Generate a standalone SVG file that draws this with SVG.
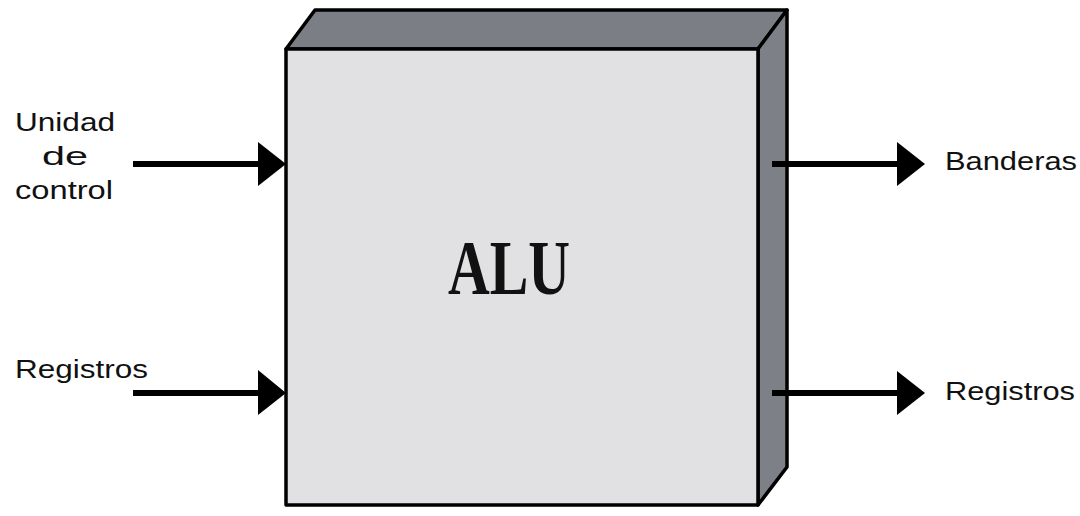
<svg xmlns="http://www.w3.org/2000/svg" width="1080" height="516" viewBox="0 0 1080 516">
<style>
.lbl{font-family:"Liberation Sans",Arial,sans-serif;font-size:25px;fill:#111}
.edge{stroke:#000;stroke-width:6;fill:none}
.head{fill:#000}
.face{stroke:#000;stroke-width:3.5;stroke-linejoin:round}
</style>
<rect width="1080" height="516" fill="#fff"/>
<g id="alu">
<polygon class="face" points="286,49 315,10 787,10 758,49" fill="#7b7e84"/>
<polygon class="face" points="758,49 787,10 787,467 758,505" fill="#7d8087"/>
<rect class="face" x="286" y="49" width="472" height="456" fill="#e1e1e3"/>
<text x="448" y="294" font-family="Liberation Serif,Times New Roman,serif" font-weight="bold" font-size="78" textLength="122" lengthAdjust="spacingAndGlyphs" fill="#111">ALU</text>
</g>
<g id="in-control">
<text class="lbl" x="15" y="131" textLength="100" lengthAdjust="spacingAndGlyphs">Unidad</text>
<text class="lbl" x="65" y="165" text-anchor="middle" textLength="46" lengthAdjust="spacingAndGlyphs">de</text>
<text class="lbl" x="15" y="199" textLength="98" lengthAdjust="spacingAndGlyphs">control</text>
</g>
<g id="in-registros">
<text class="lbl" x="15" y="378" textLength="133" lengthAdjust="spacingAndGlyphs">Registros</text>
</g>
<g id="out-banderas">
<text class="lbl" x="945" y="170" textLength="132" lengthAdjust="spacingAndGlyphs">Banderas</text>
</g>
<g id="out-registros">
<text class="lbl" x="945" y="400" textLength="130" lengthAdjust="spacingAndGlyphs">Registros</text>
</g>
<g id="connectors">
<line class="edge" x1="133" y1="164" x2="262" y2="164"/>
<polygon class="head" points="258,142 286,164 258,186"/>
<line class="edge" x1="133" y1="393" x2="262" y2="393"/>
<polygon class="head" points="258,370 286,393 258,415"/>
<line class="edge" x1="772" y1="164" x2="900" y2="164"/>
<polygon class="head" points="897,142 925,164 897,186"/>
<line class="edge" x1="772" y1="393" x2="900" y2="393"/>
<polygon class="head" points="897,371 925,393 897,415"/>
</g>
</svg>
